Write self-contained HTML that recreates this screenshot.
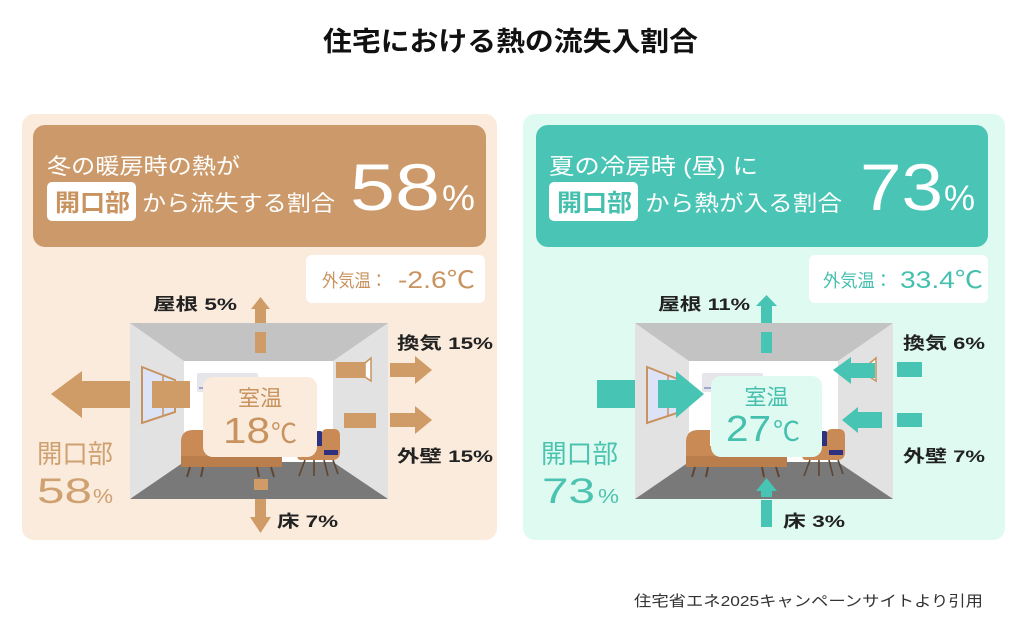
<!DOCTYPE html>
<html><head><meta charset="utf-8">
<style>
html,body{margin:0;padding:0;background:#fff;}
svg{display:block;}
text{font-family:"Liberation Sans","Noto Sans CJK JP",sans-serif;}
</style></head>
<body>
<svg width="1024" height="644" viewBox="0 0 1024 644" xmlns="http://www.w3.org/2000/svg">
<rect width="1024" height="644" fill="#fff"/>
<!-- Title -->
<text x="323" y="51" font-size="27" font-weight="bold" fill="#111" textLength="375" lengthAdjust="spacingAndGlyphs">住宅における熱の流失入割合</text>

<!-- Panels -->
<rect x="22" y="114" width="475" height="426" rx="12" fill="#FAEBDC"/>
<rect x="523" y="114" width="482" height="426" rx="12" fill="#DFFAF0"/>

<!-- Header boxes -->
<rect x="33" y="125" width="453" height="122" rx="12" fill="#CC9A6A"/>
<rect x="536" y="125" width="452" height="122" rx="12" fill="#4AC5B5"/>

<!-- Left header text -->
<text x="47" y="174" font-size="22" fill="#fff" textLength="193" lengthAdjust="spacingAndGlyphs">冬の暖房時の熱が</text>
<rect x="47" y="182" width="89" height="39" rx="5" fill="#fff"/>
<text x="55" y="211" font-size="24" font-weight="bold" fill="#C8935F" textLength="75" lengthAdjust="spacingAndGlyphs">開口部</text>
<text x="142" y="211" font-size="22" fill="#fff" textLength="193" lengthAdjust="spacingAndGlyphs">から流失する割合</text>
<text x="350" y="210" font-size="66" fill="#fff" textLength="90" lengthAdjust="spacingAndGlyphs">58</text>
<text x="442" y="210" font-size="35" fill="#fff" textLength="33" lengthAdjust="spacingAndGlyphs">%</text>

<!-- Right header text -->
<text x="549" y="174" font-size="22" fill="#fff" textLength="209" lengthAdjust="spacingAndGlyphs">夏の冷房時 (昼) に</text>
<rect x="549" y="182" width="89" height="39" rx="5" fill="#fff"/>
<text x="557" y="211" font-size="24" font-weight="bold" fill="#45BFAE" textLength="75" lengthAdjust="spacingAndGlyphs">開口部</text>
<text x="645" y="211" font-size="22" fill="#fff" textLength="197" lengthAdjust="spacingAndGlyphs">から熱が入る割合</text>
<text x="860" y="210" font-size="66" fill="#fff" textLength="83" lengthAdjust="spacingAndGlyphs">73</text>
<text x="944" y="210" font-size="35" fill="#fff" textLength="31" lengthAdjust="spacingAndGlyphs">%</text>

<!-- Outside temp boxes -->
<rect x="306" y="255" width="179" height="48" rx="6" fill="#fff"/>
<text x="322" y="287" font-size="18" fill="#C8935F" textLength="65" lengthAdjust="spacingAndGlyphs">外気温：</text>
<text x="398" y="288" font-size="24" fill="#C8935F" textLength="77" lengthAdjust="spacingAndGlyphs">-2.6℃</text>

<rect x="809" y="255" width="179" height="48" rx="6" fill="#fff"/>
<text x="823" y="287" font-size="18" fill="#45BFAE" textLength="69" lengthAdjust="spacingAndGlyphs">外気温：</text>
<text x="900" y="288" font-size="24" fill="#45BFAE" textLength="83" lengthAdjust="spacingAndGlyphs">33.4℃</text>

<!-- Room template -->
<defs>
<g id="room">
  <rect x="130" y="323" width="258" height="176" fill="#E2E2E2"/>
  <polygon points="130,323 388,323 333,361 184,361" fill="#C3C3C3"/>
  <polygon points="184,462 333,462 388,499 130,499" fill="#797979"/>
  <rect x="184" y="361" width="149" height="101" fill="#fff"/>
  <!-- AC -->
  <rect x="197" y="373" width="61" height="19" rx="2" fill="#E6E6EA"/>
  <line x1="199" y1="388" x2="210" y2="388" stroke="#8890C8" stroke-width="1.5"/>
  <!-- window -->
  <polygon points="142,367 175,380 175,412 142,423" fill="#DCE3F7" stroke="#C8935F" stroke-width="2"/>
  <line x1="163" y1="376" x2="163" y2="416" stroke="#C8935F" stroke-width="1.5"/>
  <!-- vent -->
  <polygon points="365,363 371,358 371,381 365,377" fill="#fff" stroke="#C8935F" stroke-width="1.5"/>
  <!-- sofa -->
  <path d="M181,467 L181,442 Q181,430 193,430 L205,430 L205,446 L282,446 L282,467 Z" fill="#C98A55"/>
  <rect x="181" y="456" width="101" height="11" fill="#B97E4B"/>
  <g stroke="#5F4533" stroke-width="2">
    <line x1="190" y1="467" x2="187" y2="477"/>
    <line x1="203" y1="467" x2="201" y2="477"/>
    <line x1="257" y1="467" x2="259" y2="477"/>
    <line x1="271" y1="467" x2="274" y2="477"/>
  </g>
  <!-- chair -->
  <rect x="315" y="431" width="8" height="20" rx="3" fill="#2D3180"/>
  <path d="M298,446 L322,446 L322,434 Q322,429 327,429 L334,429 Q340,429 340,436 L340,452 Q340,460 332,460 L301,460 Q297,460 297,455 Z" fill="#C98A55"/>
  <rect x="324" y="450" width="14" height="5" fill="#2D3180"/>
  <g stroke="#5F4533" stroke-width="1.6">
    <line x1="305" y1="460" x2="299" y2="476"/>
    <line x1="314" y1="460" x2="314" y2="476"/>
    <line x1="324" y1="460" x2="328" y2="476"/>
    <line x1="333" y1="460" x2="338" y2="474"/>
  </g>
</g>
</defs>

<use href="#room"/>
<use href="#room" transform="translate(505,0)"/>

<!-- Left arrows (brown) -->
<g fill="#CF9B67">
  <polygon points="251,309 260.5,297 270,309"/>
  <rect x="255" y="308" width="11" height="15"/>
  <rect x="255" y="332" width="11" height="21"/>
  <polygon points="51,394 82,371 82,381 130,381 130,408 82,408 82,418"/>
  <rect x="152" y="381" width="38" height="27"/>
  <rect x="336" y="362" width="29" height="16"/>
  <rect x="390" y="363" width="27" height="14"/>
  <polygon points="415,356 432,370 415,384"/>
  <rect x="344" y="413" width="32" height="15"/>
  <rect x="390" y="413" width="27" height="14"/>
  <polygon points="415,406 432,420 415,434"/>
  <rect x="254" y="479" width="14" height="11"/>
  <rect x="255" y="499" width="11" height="19"/>
  <polygon points="250,517 260.5,533 271,517"/>
</g>

<!-- Left room temp -->
<rect x="203" y="377" width="114" height="80" rx="10" fill="#FAEBDC"/>
<text x="260" y="406" font-size="22" fill="#C8935F" text-anchor="middle">室温</text>
<text x="223" y="443" font-size="36" fill="#C8935F" textLength="47" lengthAdjust="spacingAndGlyphs">18</text>
<text x="271" y="443" font-size="27" fill="#C8935F" textLength="26" lengthAdjust="spacingAndGlyphs">℃</text>

<!-- Right arrows (teal) -->
<g fill="#47C4B3">
  <polygon points="756,306 766.5,295 777,306"/>
  <rect x="761" y="305" width="11" height="18"/>
  <rect x="761" y="332" width="11" height="21"/>
  <rect x="597" y="380" width="38" height="28"/>
  <rect x="658" y="380" width="19" height="28"/>
  <polygon points="676,371 704,394 676,418"/>
  <rect x="897" y="362" width="25" height="15"/>
  <polygon points="833,370 851,357 851,384"/>
  <rect x="850" y="363" width="25" height="15"/>
  <rect x="897" y="413" width="25" height="14"/>
  <polygon points="842,420 858,407 858,433"/>
  <rect x="857" y="412" width="25" height="16"/>
  <polygon points="756,491 766.5,478 777,491"/>
  <rect x="761" y="490" width="11" height="7"/>
  <rect x="761" y="500" width="11" height="27"/>
</g>

<!-- Right room temp -->
<rect x="711" y="376" width="111" height="81" rx="10" fill="#DFFAF0"/>
<text x="766.5" y="405" font-size="22" fill="#45BFAE" text-anchor="middle">室温</text>
<text x="726" y="441" font-size="36" fill="#45BFAE" textLength="45" lengthAdjust="spacingAndGlyphs">27</text>
<text x="773" y="441" font-size="27" fill="#45BFAE" textLength="27" lengthAdjust="spacingAndGlyphs">℃</text>

<!-- Labels -->
<g font-size="17" font-weight="bold" fill="#222">
  <text x="153" y="310" textLength="84" lengthAdjust="spacingAndGlyphs">屋根 5%</text>
  <text x="397" y="349" textLength="96" lengthAdjust="spacingAndGlyphs">換気 15%</text>
  <text x="397" y="462" textLength="96" lengthAdjust="spacingAndGlyphs">外壁 15%</text>
  <text x="277" y="527" textLength="61" lengthAdjust="spacingAndGlyphs">床 7%</text>
  <text x="658" y="310" textLength="92" lengthAdjust="spacingAndGlyphs">屋根 11%</text>
  <text x="903" y="349" textLength="82" lengthAdjust="spacingAndGlyphs">換気 6%</text>
  <text x="903" y="462" textLength="82" lengthAdjust="spacingAndGlyphs">外壁 7%</text>
  <text x="783" y="527" textLength="62" lengthAdjust="spacingAndGlyphs">床 3%</text>
</g>

<!-- Opening big labels -->
<text x="37" y="463" font-size="26" fill="#CFA070" textLength="76" lengthAdjust="spacingAndGlyphs">開口部</text>
<text x="37" y="503" font-size="35" fill="#CFA070" textLength="55" lengthAdjust="spacingAndGlyphs">58</text>
<text x="93" y="503" font-size="20" fill="#CFA070" textLength="20" lengthAdjust="spacingAndGlyphs">%</text>

<text x="541" y="463" font-size="26" fill="#4CC3B1" textLength="77" lengthAdjust="spacingAndGlyphs">開口部</text>
<text x="542" y="503" font-size="35" fill="#4CC3B1" textLength="53" lengthAdjust="spacingAndGlyphs">73</text>
<text x="598" y="503" font-size="20" fill="#4CC3B1" textLength="21" lengthAdjust="spacingAndGlyphs">%</text>

<!-- Caption -->
<text x="634" y="606" font-size="15" fill="#333" textLength="349" lengthAdjust="spacingAndGlyphs">住宅省エネ2025キャンペーンサイトより引用</text>
</svg>
</body></html>
